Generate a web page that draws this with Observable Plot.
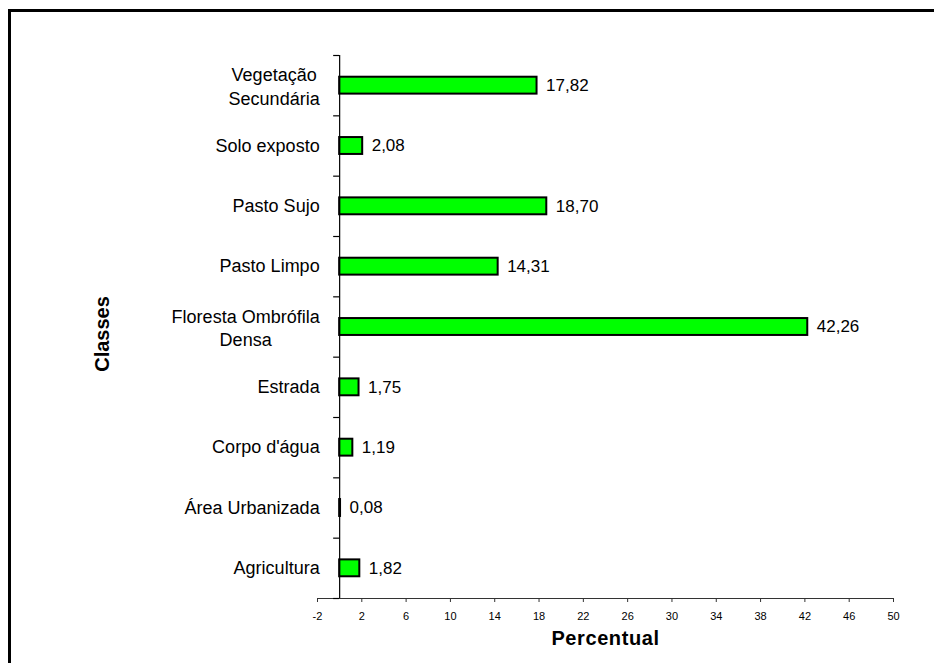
<!DOCTYPE html>
<html><head><meta charset="utf-8">
<script src="https://cdn.jsdelivr.net/npm/d3@7"></script>
<script src="https://cdn.jsdelivr.net/npm/@observablehq/plot@0.6"></script>
<style>
html,body{margin:0;padding:0;background:#fff;overflow:hidden;}
#wrap{position:relative;width:934px;height:663px;overflow:hidden;}
#wrap svg{position:absolute;left:0;top:0;}
.bar{position:absolute;z-index:2;pointer-events:none;background:#000;}
#frameTop{left:8px;top:9px;width:926px;height:3px;}
#frameLeft{left:8px;top:9px;width:3px;height:654px;}
</style></head><body>
<div id="wrap"><div class="bar" id="frameTop"></div><div class="bar" id="frameLeft"></div></div>
<script>
// Data (top to bottom as in the chart)
const classes = ["Vegetação\nSecundária", "Solo exposto", "Pasto Sujo", "Pasto Limpo", "Floresta Ombrófila\nDensa", "Estrada", "Corpo d'água", "Área Urbanizada", "Agricultura"];
const percentuais = [17.82, 2.08, 18.70, 14.31, 42.26, 1.75, 1.19, 0.08, 1.82];
const xTicks = [-2, 2, 6, 10, 14, 18, 22, 26, 30, 34, 38, 42, 46, 50];
const xTitle = "Percentual";
const yTitle = "Classes";

const rows = classes.map((c, i) => ({cls: c, val: percentuais[i], i}));
const fmt = v => v.toFixed(2).replace(".", ",");
const FONT = "'Liberation Sans', Arial, Helvetica, sans-serif";
const LABEL_SIZE = 18;

const ctx = document.createElement("canvas").getContext("2d");
ctx.font = LABEL_SIZE + "px " + FONT;
const widest = s => d3.max(s.split("\n"), l => ctx.measureText(l).width);

const single = rows.filter(d => !d.cls.includes("\n"));
const multi = rows.filter(d => d.cls.includes("\n"));

const labelGap = 20;

const plot = Plot.plot({
  width: 934,
  height: 663,
  marginLeft: 317,
  marginRight: 41,
  marginTop: 55,
  marginBottom: 65,
  style: {fontFamily: FONT, fontSize: "17px", background: "transparent", color: "#000"},
  x: {domain: [-2, 50], axis: null},
  y: {domain: [9, 0], axis: null},
  marks: [
    Plot.ruleY([9], {stroke: "#333", strokeWidth: 1}),
    Plot.axisX({ticks: xTicks, tickSize: 4, tickPadding: 10, fontSize: 11, stroke: "#333", tickFormat: d => String(d), label: null}),
    Plot.rect(rows, {x1: 0, x2: "val", y1: d => d.i + 0.36, y2: d => d.i + 0.64, fill: "#00ff00", stroke: "#000", strokeWidth: 2}),
    Plot.ruleX([0], {stroke: "#000", strokeWidth: 1.2}),
    Plot.ruleY(d3.range(10), {x1: 0, x2: 0, insetLeft: -6, stroke: "#000", strokeWidth: 1.2}),
    Plot.text(single, {x: 0, y: d => d.i + 0.5, text: "cls", textAnchor: "end", dx: -labelGap, fontSize: LABEL_SIZE, fill: "#000"}),
    ...multi.map(d => Plot.text([d], {x: 0, y: r => r.i + 0.5, text: "cls", textAnchor: "middle", dx: -labelGap - widest(d.cls) / 2, lineHeight: 1.3, fontSize: LABEL_SIZE, fill: "#000"})),
    Plot.text(rows, {x: "val", y: d => d.i + 0.5, text: d => fmt(d.val), textAnchor: "start", dx: 9, fontSize: 17, fill: "#000"}),
    Plot.text([xTitle], {frameAnchor: "bottom", textAnchor: "middle", lineAnchor: "middle", dy: 40, fontSize: 20, fontWeight: "bold", fill: "#000"}),
    Plot.text([yTitle], {frameAnchor: "left", textAnchor: "middle", lineAnchor: "middle", rotate: -90, dx: -215, dy: 7, fontSize: 20, fontWeight: "bold", fill: "#000"})
  ]
});
d3.select(plot).selectAll("text").filter(function() { return this.textContent === xTitle; }).attr("letter-spacing", "0.6px");
document.getElementById("wrap").appendChild(plot);
</script>
</body></html>
